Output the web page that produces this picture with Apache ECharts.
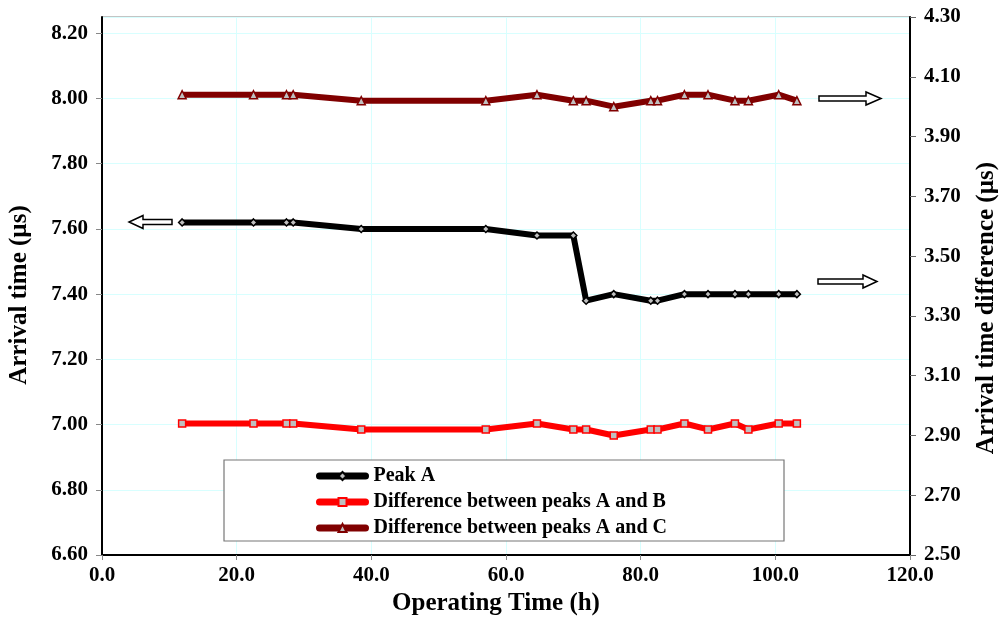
<!DOCTYPE html>
<html>
	<head>
		<meta charset="utf-8" />
		<title></title>
		<script src="https://cdn.jsdelivr.net/npm/echarts@6/dist/echarts.min.js" type="text/javascript" charset="utf-8"></script>
		<style type="text/css">
			html, body { margin: 0; padding: 0; background: #fff; }
		</style>
	</head>
	<body>
		<div id="chart" style="width: 1002px;height: 624px;"></div>
		<script type="text/javascript">
			// operating time (h)
			var hours = [11.9, 22.5, 27.4, 28.4, 38.5, 57.0, 64.6, 70.0, 71.9, 76.0, 81.5, 82.5, 86.5, 90.0, 94.0, 96.0, 100.5, 103.2];
			// arrival time of peak A (left axis)
			var peakA = [7.62, 7.62, 7.62, 7.62, 7.60, 7.60, 7.58, 7.58, 7.38, 7.40, 7.38, 7.38, 7.40, 7.40, 7.40, 7.40, 7.40, 7.40];
			// differences (right axis)
			var diffAB = [2.94, 2.94, 2.94, 2.94, 2.92, 2.92, 2.94, 2.92, 2.92, 2.90, 2.92, 2.92, 2.94, 2.92, 2.94, 2.92, 2.94, 2.94];
			var diffAC = [4.04, 4.04, 4.04, 4.04, 4.02, 4.02, 4.04, 4.02, 4.02, 4.00, 4.02, 4.02, 4.04, 4.04, 4.02, 4.02, 4.04, 4.02];
			var names = ["Peak A", "Difference between peaks A and B", "Difference between peaks A and C"];

			function pairs(ys){
				var arr = [];
				for ( var i = 0 ; i < hours.length ; i ++ ){
					arr.push([hours[i], ys[i]]);
				}
				return arr;
			}

			var font = "'Liberation Serif', 'Times New Roman', serif";
			var labelStyle = {color: '#000', fontFamily: font, fontWeight: 'bold', fontSize: 21};
			function nameStyle(pad){
				return {color: '#000', fontFamily: font, fontWeight: 'bold', fontSize: 25, padding: pad};
			}

			var chart = echarts.init(document.getElementById("chart"));
			var option = {
				animation: false,
				backgroundColor: '#fff',
				grid: {left: 102, right: 92, top: 17, bottom: 69, show: true, borderColor: '#888', borderWidth: 1, outerBoundsMode: 'none'},
				xAxis: {
					type: 'value', min: 0, max: 120, interval: 20,
					name: 'Operating Time (h)', nameLocation: 'middle', nameGap: 36, nameTextStyle: nameStyle([0, 20, 0, 0]),
					axisLine: {lineStyle: {color: '#000', width: 2}},
					axisTick: {length: 5, lineStyle: {color: '#888'}},
					axisLabel: Object.assign({margin: 10, formatter: function(v){ return v.toFixed(1); }}, labelStyle),
					splitLine: {show: true, lineStyle: {color: '#d8ffff', width: 1}}
				},
				yAxis: [
					{
						type: 'value', min: 6.6, max: 8.25, interval: 0.2,
						name: 'Arrival time (µs)', nameLocation: 'middle', nameGap: 70, nameTextStyle: nameStyle([0, 18, 0, 0]),
						axisLine: {show: true, lineStyle: {color: '#000', width: 2}},
						axisTick: {show: true, length: 6, lineStyle: {color: '#888'}},
						axisLabel: Object.assign({margin: 14, showMaxLabel: false, formatter: function(v){ return v.toFixed(2); }}, labelStyle),
						splitLine: {show: true, lineStyle: {color: '#d8ffff', width: 1}}
					},
					{
						type: 'value', min: 2.5, max: 4.3, interval: 0.2, position: 'right',
						name: 'Arrival time difference (µs)', nameLocation: 'middle', nameGap: 64, nameRotate: 90, nameTextStyle: nameStyle([0, 44, 0, 0]),
						axisLine: {show: true, lineStyle: {color: '#000', width: 2}},
						axisTick: {show: true, length: 6, lineStyle: {color: '#666'}},
						axisLabel: Object.assign({margin: 14, formatter: function(v){ return v.toFixed(2); }}, labelStyle),
						splitLine: {show: false}
					}
				],
				legend: {
					orient: 'vertical', left: 311, top: 461, itemWidth: 46, itemHeight: 10, itemGap: 6,
					data: names,
					lineStyle: {width: 7, cap: 'round'},
					textStyle: {color: '#000', fontFamily: font, fontWeight: 'bold', fontSize: 20, padding: [0, 0, 0, 3]}
				},
				graphic: [
					{type: 'rect', z: 3, shape: {x: 224, y: 460, width: 560, height: 81}, style: {fill: '#fff', stroke: '#777', lineWidth: 1.2}},
					{type: 'polygon', z: 3, shape: {points: [[819,96],[866,96],[866,92],[881,98.5],[866,105],[866,101],[819,101]]}, style: {fill: '#fff', stroke: '#000', lineWidth: 1.5}},
					{type: 'polygon', z: 3, shape: {points: [[818,279],[863,279],[863,275],[877,281.5],[863,288],[863,284],[818,284]]}, style: {fill: '#fff', stroke: '#000', lineWidth: 1.5}},
					{type: 'polygon', z: 3, shape: {points: [[172,219.5],[143,219.5],[143,215.5],[129,222],[143,228.5],[143,224.5],[172,224.5]]}, style: {fill: '#fff', stroke: '#000', lineWidth: 1.5}}
				],
				series: [
					{
						name: names[0], type: 'line', yAxisIndex: 0, data: pairs(peakA),
						symbol: 'diamond', symbolSize: 7, showAllSymbol: true,
						lineStyle: {color: '#000', width: 6},
						itemStyle: {color: '#c0c0c0', borderColor: '#000', borderWidth: 1.5}
					},
					{
						name: names[1], type: 'line', yAxisIndex: 1, data: pairs(diffAB),
						symbol: 'rect', symbolSize: 7, showAllSymbol: true,
						lineStyle: {color: '#ff0000', width: 6},
						itemStyle: {color: '#c0c0c0', borderColor: '#ff0000', borderWidth: 1.5}
					},
					{
						name: names[2], type: 'line', yAxisIndex: 1, data: pairs(diffAC),
						symbol: 'triangle', symbolSize: 8, showAllSymbol: true,
						lineStyle: {color: '#800000', width: 6},
						itemStyle: {color: '#c0c0c0', borderColor: '#800000', borderWidth: 1.5}
					}
				]
			};
			chart.setOption(option);
		</script>
	</body>
</html>
